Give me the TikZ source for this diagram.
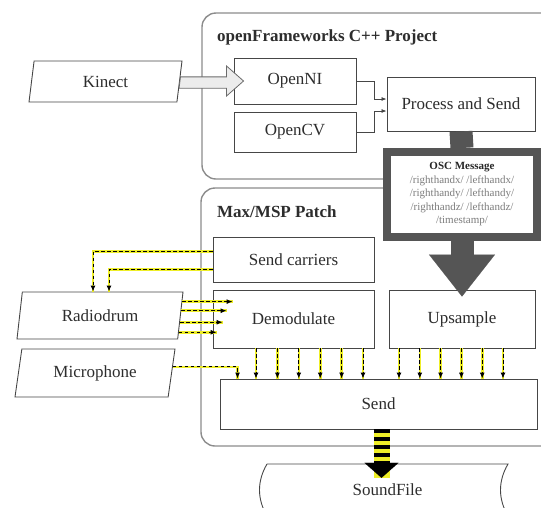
\documentclass[tikz,border=0pt]{standalone}
\usepackage{fontspec}
\setmainfont{Liberation Serif}
\usepackage{tikz}
\usetikzlibrary{
  shapes.geometric,
  arrows.meta,
  calc
}
\definecolor{boxcolor}{RGB}{70, 70, 70}
\definecolor{framecolor}{RGB}{140, 140, 140}
\definecolor{osccolor}{RGB}{85, 85, 85}
\definecolor{hollowcolor}{RGB}{236, 236, 236}
\definecolor{sigyellow}{RGB}{238, 238, 40}
\definecolor{osctext}{RGB}{125, 125, 125}
\definecolor{labelcolor}{RGB}{45, 45, 45}
\tikzset{
boxtext/.style={
  align=center,
  font=\fontsize{17}{20}\selectfont,
  text=labelcolor
},
block/.style={
  draw=boxcolor,
  line width=0.9pt,
  fill=white,
  inner sep=0pt,
  boxtext
},
device/.style={
  trapezium,
  trapezium left angle=66,
  trapezium right angle=114,
  trapezium stretches body,
  draw=boxcolor,
  line width=0.9pt,
  fill=white,
  inner sep=0pt,
  boxtext
},
container/.style={
  draw=framecolor,
  line width=1.4pt,
  rounded corners=14pt
},
titlelabel/.style={
  font=\bfseries\fontsize{17}{20}\selectfont,
  text=labelcolor,
  anchor=west,
  inner sep=0pt
},
oscbox/.style={
  draw=osccolor,
  line width=8pt,
  fill=white,
  minimum width=150pt,
  minimum height=85pt,
  inner sep=0pt,
  align=center,
  font=\fontsize{11}{13.5}\selectfont,
  text=osctext
},
boxline/.style={
  draw=boxcolor,
  line width=0.9pt
},
conn/.style={
  draw=boxcolor,
  line width=0.8pt,
  -{Latex[length=5pt,width=4pt]}
},
hollowarrow/.style={
  fill=hollowcolor,
  draw=boxcolor!80,
  line width=0.8pt
},
oscshaft/.style={
  draw=osccolor,
  line width=23pt
},
oscarrow/.style={
  draw=osccolor,
  line width=23pt,
  -{Triangle[length=42pt,width=66pt,line width=0.1pt]}
},
sigline/.style={
  draw=black,
  line width=1pt,
  dash pattern=on 3.5pt off 2.5pt,
  -{Latex[length=6pt,width=5pt]},
  preaction={draw=sigyellow, line width=2.6pt, solid, -}
},
stripearrow/.style={
  draw=black,
  line width=16pt,
  dash pattern=on 4pt off 4pt,
  -{Triangle[length=15pt,width=34pt,line width=0.1pt]},
  preaction={draw=sigyellow, line width=16pt, solid, -}
}
}

\begin{document}
\begin{tikzpicture}[x=1pt, y=-1pt]
  \useasboundingbox (0,0) rectangle (541,507);
  \clip (0,0) rectangle (541,507);

  % containers
  \draw[container] (202,13) rectangle (620,179);
  \node[titlelabel] (ofTitle) at (217,37) {openFrameworks C++ Project};
  \draw[container] (201,188) rectangle (620,446);
  \node[titlelabel] (maxTitle) at (217,212) {Max/MSP Patch};

  % input devices
  \node[device, minimum width=153pt, minimum height=41pt] (Kinect) at (105.5,81.5) {Kinect};
  \node[device, minimum width=166pt, minimum height=47pt] (Radiodrum) at (100,315.5) {Radiodrum};
  \node[device, minimum width=160pt, minimum height=48pt] (Microphone) at (95,373) {Microphone};

  % openFrameworks blocks
  \node[block, minimum width=122pt, minimum height=46pt] (OpenNI) at (295,81) {OpenNI};
  \node[block, minimum width=122pt, minimum height=40pt] (OpenCV) at (295,132) {OpenCV};
  \node[block, minimum width=148pt, minimum height=54pt] (Process) at (461,104) {Process and Send};

  % Max/MSP blocks
  \node[block, minimum width=161pt, minimum height=45pt] (SendCarriers) at (293.5,259.5) {Send carriers};
  \node[block, minimum width=161pt, minimum height=58pt] (Demodulate) at (293.5,319) {Demodulate};
  \node[block, minimum width=146pt, minimum height=58pt] (Upsample) at (462,319) {Upsample};
  \node[block, minimum width=317pt, minimum height=50pt] (Send) at (378.5,404) {Send};

  % OSC message
  \node[oscbox] (OSC) at (462,194.5) {{\color{black!85}\textbf{OSC Message}}\\
    /righthandx/ /lefthandx/\\/righthandy/ /lefthandy/\\
    /righthandz/ /lefthandz/\\/timestamp/};

  % sound file
  \draw[boxline] (267,464) -- (508,464) .. controls (498,481) and (498,499) .. (508,516);
  \draw[boxline] (267,464) .. controls (257,481) and (257,499) .. (267,516);
  \node[boxtext, minimum width=241pt, minimum height=52pt, inner sep=0pt] (SoundFile) at (387.5,490) {SoundFile};

  % Kinect to OpenNI
  \path ($(Kinect.top right corner)!0.39!(Kinect.bottom right corner)$) coordinate (k1)
        ($(Kinect.top right corner)!0.66!(Kinect.bottom right corner)$) coordinate (k2)
        ([xshift=-7pt]OpenNI.west) coordinate (hb);
  \filldraw[hollowarrow] (k1) -- (k1 -| hb) -- ([yshift=15pt]hb) -- ([xshift=10pt]OpenNI.west)
    -- ([yshift=-15pt]hb) -- (k2 -| hb) -- (k2) -- cycle;

  % trackers to Process and Send
  \draw[conn] (OpenNI.east) -- ++(18,0) |- ([yshift=5pt]Process.west);
  \draw[conn] (OpenCV.east) -- ++(18,0) |- ([yshift=-7pt]Process.west);

  % OSC path
  \draw[oscshaft] (Process.south) -- (OSC.north);
  \draw[oscarrow] (OSC.south) -- ([yshift=-7pt]Upsample.north);

  % carriers to Radiodrum
  \draw[sigline] ([yshift=8pt]SendCarriers.west) -| ([xshift=-7pt]Radiodrum.north);
  \draw[sigline] ([yshift=-10pt]SendCarriers.west) -| ([xshift=9pt]Radiodrum.north);

  % Radiodrum to Demodulate
  \foreach \pos/\dx in {0.21/20, 0.40/14, 0.64/10, 0.85/4}{
    \path ($(Radiodrum.top right corner)!\pos!(Radiodrum.bottom right corner)$) coordinate (r)
          ([xshift=\dx pt]Demodulate.west) coordinate (d);
    \draw[sigline] (r) -- (r -| d);
  }

  % Microphone to Send
  \path ($(Microphone.top right corner)!0.375!(Microphone.bottom right corner)$) coordinate (m);
  \draw[sigline] (m) -| ([xshift=18pt]Send.north west);

  % Demodulate and Upsample to Send
  \foreach \i in {0,...,5}{
    \path ([xshift={(-37.5+21.4*\i)*1pt}]Demodulate.south) coordinate (a);
    \draw[sigline] (a) -- (a |- Send.north);
    \path ([xshift={(-63+20.8*\i)*1pt}]Upsample.south) coordinate (b);
    \draw[sigline] (b) -- (b |- Send.north);
  }

  % Send to SoundFile
  \path (Send.south |- SoundFile.north) coordinate (sf);
  \draw[stripearrow] ([xshift=3pt]Send.south) -- ([xshift=3pt,yshift=-14pt]sf);
\end{tikzpicture}
\end{document}
